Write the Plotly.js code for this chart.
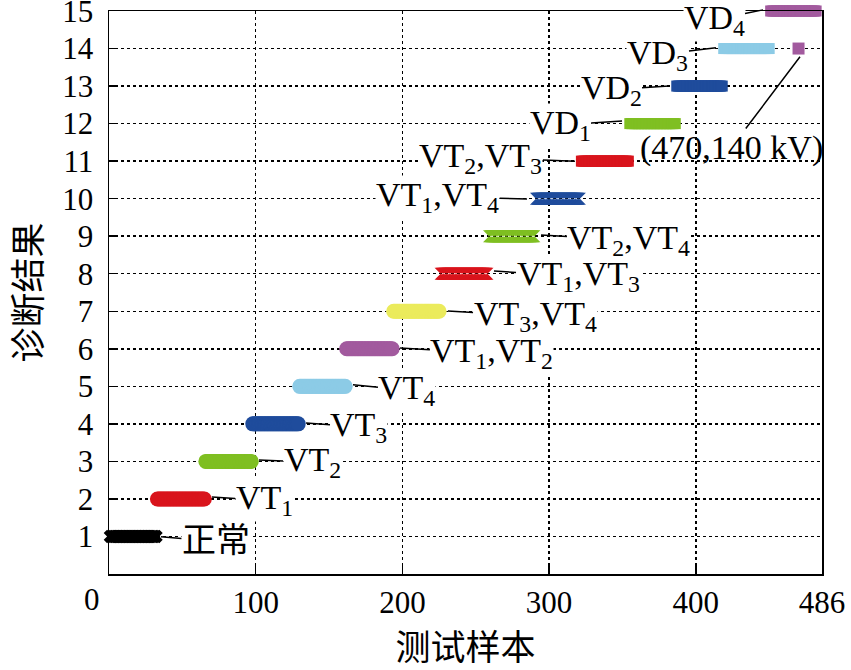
<!DOCTYPE html>
<html>
<head>
<meta charset="utf-8">
<script src="https://cdn.plot.ly/plotly-3.0.1.min.js"></script>
<style>html,body{margin:0;padding:0;background:#fff;}#chart{width:851px;height:670px;}</style>
</head>
<body>
<div id="chart"></div>
<script>
// Diagnosis classes (y value) and their sample index ranges
var classIds    = [1, 2, 3, 4, 5, 6, 7, 8, 9, 10, 11, 12, 13, 14, 15];
var classStart  = [1, 33, 66, 98, 130, 162, 194, 226, 259, 291, 322, 355, 387, 419, 451];
var classEnd    = [32, 65, 97, 129, 161, 193, 225, 258, 290, 321, 354, 386, 418, 450, 482];
var classColors = ['#000000', '#d9141c', '#7fbf22', '#1f4c9c', '#8ccbe6', '#a25a9e', '#ebeb5c',
                   '#d9141c', '#7fbf22', '#1f4c9c', '#d9141c', '#7fbf22', '#1f4c9c', '#8ccbe6', '#a25a9e'];
var classSymbols = ['x', 'circle', 'circle', 'circle', 'circle', 'circle', 'circle',
                    'hourglass', 'hourglass', 'hourglass', 'square', 'square', 'square', 'square', 'square'];
var classSizes  = [12, 15, 15, 15, 15, 15, 15, 12, 12, 12, 11, 11, 11, 11, 11];

// Misdiagnosed sample: sample 470 (true class 15) diagnosed as 14
var missSample = [470];
var missTrue   = [15];
var missDiag   = [14];

// Labels
var classLabels = ['正常', 'VT<sub>1</sub>', 'VT<sub>2</sub>', 'VT<sub>3</sub>', 'VT<sub>4</sub>',
  'VT<sub>1</sub>,VT<sub>2</sub>', 'VT<sub>3</sub>,VT<sub>4</sub>', 'VT<sub>1</sub>,VT<sub>3</sub>',
  'VT<sub>2</sub>,VT<sub>4</sub>', 'VT<sub>1</sub>,VT<sub>4</sub>', 'VT<sub>2</sub>,VT<sub>3</sub>',
  'VD<sub>1</sub>', 'VD<sub>2</sub>', 'VD<sub>3</sub>', 'VD<sub>4</sub>'];
var missLabel = '(470,140 kV)';
var xTickVals = [0, 100, 200, 300, 400, 486];
var xTickText = ['', '100', '200', '300', '400', '486'];
var yTickVals = [1, 2, 3, 4, 5, 6, 7, 8, 9, 10, 11, 12, 13, 14, 15];

// label placement: text centre (ax, ay) and leader target (tx, ty)
var labelAX = [72.9, 105.7, 138.4, 170.4, 203.1, 261, 290.4, 319.7, 354.4, 224.0, 253.5, 307.5, 342.2, 374.2, 412.4];
var labelAY = [0.88, 1.97, 2.98, 3.92, 4.90, 5.89, 6.87, 7.94, 8.90, 10.05, 11.08, 11.96, 12.90, 13.83, 14.76];
var labelTX = [35.4, 70.2, 102.2, 134.3, 166.3, 198.4, 231, 262.4, 294.5, 284.9, 317.6, 349.7, 381.7, 413.7, 445.8];
var labelTY = [0.99, 2.05, 3.04, 4.02, 5.04, 6.02, 7.01, 8.07, 9.03, 9.99, 11.0, 12.07, 13.0, 14.02, 15.03];

var serif = 'Liberation Serif, Times New Roman, Noto Sans CJK SC, serif';
var cjk = 'Noto Sans CJK SC, sans-serif';

var traces = [];
for (var c = 0; c < classIds.length; c++) {
  var xs = [], ys = [];
  for (var s = classStart[c]; s <= classEnd[c]; s++) {
    if (missSample.indexOf(s) >= 0) continue;
    xs.push(s); ys.push(classIds[c]);
  }
  traces.push({
    type: 'scatter', mode: 'markers', x: xs, y: ys, cliponaxis: false, showlegend: false,
    hoverinfo: 'skip',
    marker: {symbol: classSymbols[c], size: classSizes[c], color: classColors[c], line: {width: 0}}
  });
}
for (var m = 0; m < missSample.length; m++) {
  var ci = classIds.indexOf(missTrue[m]);
  traces.push({
    type: 'scatter', mode: 'markers', x: [missSample[m]], y: [missDiag[m]], cliponaxis: false,
    showlegend: false, hoverinfo: 'skip',
    marker: {symbol: 'square', size: 12, color: classColors[ci], line: {width: 0}}
  });
}

var annotations = [];
for (var k = 0; k < classLabels.length; k++) {
  annotations.push({
    text: classLabels[k], x: labelTX[k], y: labelTY[k], ax: labelAX[k], ay: labelAY[k],
    xref: 'x', yref: 'y', axref: 'x', ayref: 'y',
    showarrow: true, arrowhead: 0, arrowwidth: 1.5, arrowcolor: '#000', standoff: 0, startstandoff: 0,
    font: {family: serif, size: 34, color: '#000'}, borderpad: 0, bgcolor: '#ffffff'
  });
}
annotations.push({
  text: missLabel, x: 471, y: 13.78, ax: 424, ay: 11.35,
  xref: 'x', yref: 'y', axref: 'x', ayref: 'y',
  showarrow: true, arrowhead: 0, arrowwidth: 1.5, arrowcolor: '#000', standoff: 0,
  font: {family: serif, size: 34, color: '#000'}, borderpad: 0
});
annotations.push({
  text: '0', xref: 'paper', yref: 'paper', x: -0.024, y: -0.046, showarrow: false,
  xanchor: 'center', yanchor: 'middle', font: {family: serif, size: 31, color: '#000'}
});

var layout = {
  width: 851, height: 670,
  margin: {l: 109, r: 29, t: 11, b: 96},
  paper_bgcolor: '#fff', plot_bgcolor: '#fff',
  font: {family: serif, size: 31, color: '#000'},
  xaxis: {
    range: [0, 486], tickvals: xTickVals, ticktext: xTickText, ticks: 'inside', ticklen: 8,
    tickwidth: 1.5, tickcolor: '#000', showline: true, mirror: true, linewidth: 1.5, linecolor: '#000',
    showgrid: true, gridcolor: '#000', gridwidth: 1.5, griddash: 'dot', zeroline: false,
    automargin: false, tickfont: {family: serif, size: 31, color: '#000'},
    title: {text: '测试样本', font: {family: cjk, size: 35, color: '#000'}, standoff: 20}
  },
  yaxis: {
    range: [0, 15.0001], tickvals: yTickVals, ticks: 'inside', ticklen: 8,
    tickwidth: 1.5, tickcolor: '#000', showline: true, mirror: true, linewidth: 1.5, linecolor: '#000',
    showgrid: true, gridcolor: '#000', gridwidth: 1.5, griddash: 'dot', zeroline: false,
    automargin: false, ticklabelstandoff: 8, ticklabeloverflow: 'allow',
    tickfont: {family: serif, size: 31, color: '#000'},
    title: {text: '诊断结果', font: {family: cjk, size: 35, color: '#000'}, standoff: 10}
  },
  annotations: annotations
};

Plotly.newPlot('chart', traces, layout, {displayModeBar: false, staticPlot: true});
</script>
</body>
</html>
